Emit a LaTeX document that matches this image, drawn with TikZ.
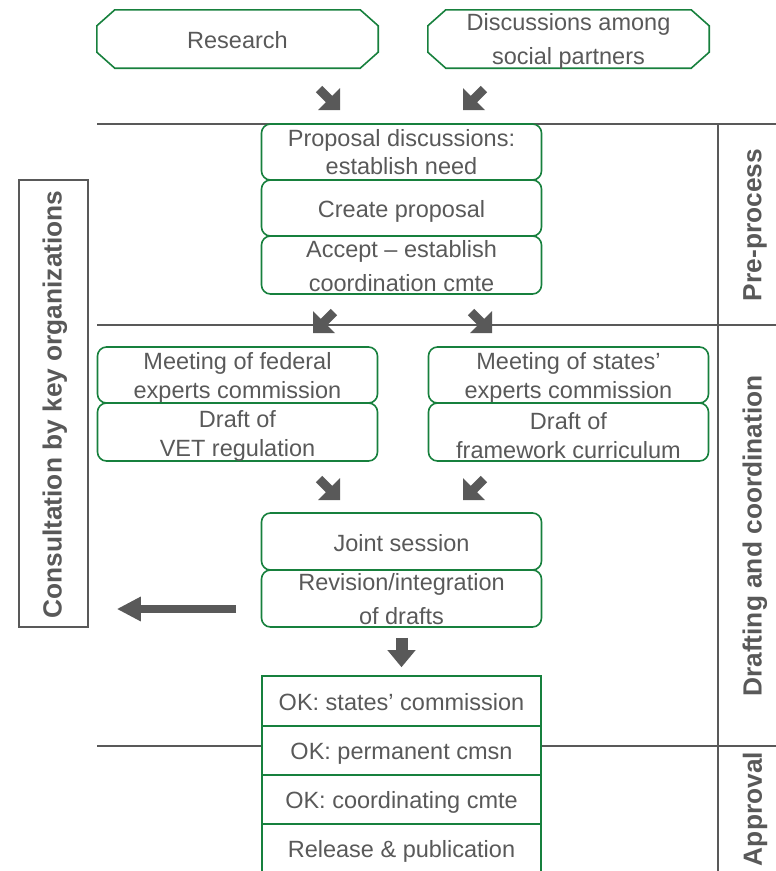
\documentclass[tikz,border=0pt]{standalone}
\usepackage{fontspec}
\setmainfont{Liberation Sans}
\usetikzlibrary{arrows.meta}
\definecolor{boxgreen}{HTML}{17803D}
\definecolor{inkgray}{HTML}{595959}

% chamfered outline drawn round a named node
\newcommand\chamferframe[1]{%
  \draw[boxgreen, line width=1.6pt]
    ([xshift=18pt]#1.north west) -- ([xshift=-18pt]#1.north east)
    -- ([yshift=-16pt]#1.north east) -- ([yshift=16pt]#1.south east)
    -- ([xshift=-18pt]#1.south east) -- ([xshift=18pt]#1.south west)
    -- ([yshift=16pt]#1.south west) -- ([yshift=-16pt]#1.north west) -- cycle;}

\begin{document}
\begin{tikzpicture}[x=1pt,y=-1pt,
  txt/.style={text=inkgray, font=\fontsize{23.5}{29}\selectfont, align=center, inner sep=0pt},
  wide/.style={font=\fontsize{23.5}{34}\selectfont},
  phase/.style={text=inkgray, font=\fontsize{26.3}{30}\selectfont\bfseries, rotate=90, inner sep=0pt},
  roundbox/.style={draw=boxgreen, line width=1.6pt, rounded corners=9pt, minimum width=280pt, inner sep=0pt},
  squarebox/.style={draw=boxgreen, line width=1.6pt, fill=white, minimum width=279pt, inner sep=0pt},
  octo/.style={minimum width=281pt, minimum height=58pt, inner sep=0pt},
  rule/.style={draw=inkgray, line width=2.6pt},
  thinrule/.style={draw=inkgray, line width=2pt},
  flowarrow/.style={draw=inkgray, line width=8pt, -{Triangle[length=24pt,width=23pt]}},
  downarrow/.style={draw=inkgray, line width=12pt, -{Triangle[length=17pt,width=27pt]}},
  darr/.pic={\fill[inkgray] (0,0) -- (-22,0) -- (-14.18,-7.82) -- (-24.08,-17.72)
      -- (-17.72,-24.08) -- (-7.82,-14.18) -- (0,-22) -- cycle;}
]
\useasboundingbox (0,0) rectangle (776,871);

% phase separators
\coordinate (r1w) at (97,124);  \coordinate (r1e) at (776,124);
\coordinate (r2w) at (97,325);  \coordinate (r2e) at (776,325);
\coordinate (r3w) at (97,746);  \coordinate (r3a) at (262,746);
\coordinate (r3b) at (541,746); \coordinate (r3e) at (776,746);
\coordinate (vtop) at (718,124); \coordinate (vbot) at (718,871);
\draw[rule] (r1w) -- (r1e);
\draw[rule] (r2w) -- (r2e);
\draw[rule] (r3w) -- (r3a);
\draw[rule] (r3b) -- (r3e);
\draw[thinrule] (vtop) -- (vbot);

% phase labels
\node[phase] (lpre) at (755,225) {Pre-process};
\node[phase] (ldraft) at (755,536) {Drafting and coordination};
\node[phase] (lappr) at (755,809) {Approval};

% consultation box
\node[draw=inkgray, line width=1.6pt, minimum width=69pt, minimum height=447pt, inner sep=0pt] (cons) at (53.5,403.5) {};
\node[phase] (const) at (55,404.5) {Consultation by key organizations};

% sources
\node[octo] (res) at (237.5,39) {};
\chamferframe{res}
\node[txt] (rest) at (237.5,40.5) {Research};
\node[octo] (disc) at (568.5,39) {};
\chamferframe{disc}
\node[txt, wide] (disct) at (568.5,41.5) {Discussions among\\social partners};

\pic at (340,110) {darr};
\pic[xscale=-1] at (463,110) {darr};

% pre-process stack
\node[roundbox, minimum height=56pt] (p1) at (401.5,152) {};
\node[txt, font=\fontsize{23.5}{28}\selectfont] (p1t) at (401.5,152) {Proposal discussions:\\establish need};
\node[roundbox, minimum height=56pt] (p2) at (401.5,208) {};
\node[txt] (p2t) at (401.5,211) {Create proposal};
\node[roundbox, minimum height=58pt] (p3) at (401.5,265) {};
\node[txt, wide] (p3t) at (401.5,266) {Accept – establish\\coordination cmte};

\pic[xscale=-1] at (313,333) {darr};
\pic at (492,333) {darr};

% drafting: federal and states
\node[roundbox, minimum height=56pt] (f1) at (237.5,375) {};
\node[txt] (f1t) at (237.5,378) {Meeting of federal\\experts commission};
\node[roundbox, minimum height=58pt] (f2) at (237.5,432) {};
\node[txt] (f2t) at (237.5,435.5) {Draft of\\VET regulation};
\node[roundbox, minimum height=56pt] (s1) at (568.5,375) {};
\node[txt] (s1t) at (568.5,378) {Meeting of states’\\experts commission};
\node[roundbox, minimum height=58pt] (s2) at (568.5,432) {};
\node[txt] (s2t) at (568.5,435.5) {Draft of\\framework curriculum};

\pic at (340,500) {darr};
\pic[xscale=-1] at (463,500) {darr};

% joint work
\node[roundbox, minimum height=57pt] (joint) at (401.5,541.5) {};
\node[txt] (jointt) at (401.5,543.5) {Joint session};
\node[roundbox, minimum height=57pt] (rev) at (401.5,598.5) {};
\node[txt, wide] (revt) at (401.5,599.5) {Revision/integration\\of drafts};

\coordinate (consarrow) at (236,609);
\draw[flowarrow, shorten >=28pt] (consarrow) -- (cons.east |- consarrow);

% approval chain
\node[squarebox, minimum height=50pt] (ok1) at (401.5,701) {};
\node[txt] (ok1t) at (401.5,702.5) {OK: states’ commission};
\node[squarebox, minimum height=49pt] (ok2) at (401.5,750.5) {};
\node[txt] (ok2t) at (401.5,753.5) {OK: permanent cmsn};
\node[squarebox, minimum height=49pt] (ok3) at (401.5,799.5) {};
\node[txt] (ok3t) at (401.5,802.5) {OK: coordinating cmte};
\node[squarebox, minimum height=66pt] (ok4) at (401.5,857) {};
\node[txt] (ok4t) at (401.5,851.5) {Release \& publication};

\draw[downarrow, shorten <=10pt, shorten >=8pt] (rev.south) -- (ok1.north);
\end{tikzpicture}
\end{document}
